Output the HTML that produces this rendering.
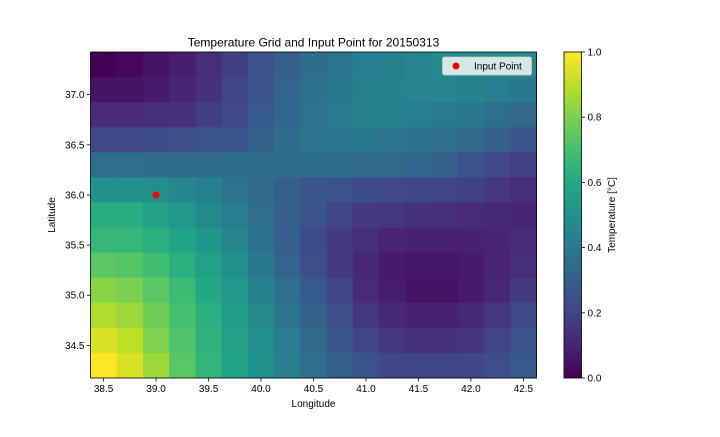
<!DOCTYPE html>
<html><head><meta charset="utf-8"><style>
body{margin:0;background:#fff;}
svg text{font-family:"Liberation Sans","DejaVu Sans",sans-serif;fill:#000;}
</style></head><body>
<svg id="c" width="720" height="432" xmlns="http://www.w3.org/2000/svg">
<defs><linearGradient id="vg" x1="0" y1="1" x2="0" y2="0"></linearGradient></defs>
</svg>
<script>
const lons = [38.5,38.75,39.0,39.25,39.5,39.75,40.0,40.25,40.5,40.75,41.0,41.25,41.5,41.75,42.0,42.25,42.5];
const lats = [37.3,37.05,36.8,36.55,36.3,36.05,35.8,35.55,35.3,35.05,34.8,34.55,34.3];
const temps = [
[0.0,0.02,0.05,0.08,0.13,0.18,0.25,0.3,0.35,0.38,0.42,0.43,0.45,0.47,0.47,0.47,0.47],
[0.05,0.05,0.07,0.1,0.14,0.2,0.26,0.32,0.37,0.4,0.43,0.44,0.45,0.45,0.44,0.42,0.4],
[0.12,0.12,0.13,0.14,0.18,0.22,0.28,0.33,0.38,0.41,0.43,0.43,0.42,0.41,0.4,0.36,0.34],
[0.22,0.22,0.23,0.24,0.25,0.27,0.31,0.35,0.38,0.39,0.4,0.39,0.37,0.36,0.34,0.3,0.27],
[0.36,0.36,0.35,0.35,0.35,0.35,0.35,0.35,0.35,0.35,0.34,0.34,0.32,0.3,0.26,0.22,0.19],
[0.5,0.5,0.49,0.46,0.43,0.38,0.34,0.3,0.27,0.25,0.23,0.22,0.21,0.2,0.19,0.16,0.13],
[0.62,0.62,0.57,0.53,0.47,0.42,0.36,0.3,0.26,0.2,0.17,0.16,0.14,0.13,0.12,0.11,0.10],
[0.66,0.66,0.63,0.58,0.52,0.45,0.37,0.3,0.23,0.17,0.13,0.1,0.09,0.09,0.09,0.1,0.12],
[0.74,0.73,0.69,0.63,0.57,0.49,0.4,0.32,0.24,0.17,0.11,0.07,0.06,0.06,0.07,0.1,0.13],
[0.82,0.8,0.74,0.68,0.6,0.53,0.44,0.36,0.28,0.2,0.12,0.08,0.05,0.05,0.07,0.11,0.17],
[0.88,0.85,0.78,0.7,0.63,0.55,0.47,0.39,0.31,0.24,0.16,0.11,0.09,0.09,0.11,0.16,0.22],
[0.94,0.9,0.81,0.72,0.64,0.57,0.49,0.42,0.34,0.27,0.21,0.16,0.14,0.14,0.15,0.2,0.25],
[1.0,0.94,0.85,0.74,0.65,0.58,0.5,0.43,0.36,0.3,0.25,0.21,0.2,0.2,0.21,0.24,0.28]
];
const inputPoint = [39.0, 36.0];
const xTicks = [38.5,39.0,39.5,40.0,40.5,41.0,41.5,42.0,42.5];
const yTicks = [34.5,35.0,35.5,36.0,36.5,37.0];
const cTicks = [0.0,0.2,0.4,0.6,0.8,1.0];

const VIR=["#440154","#482475","#414487","#355f8d","#2a788e","#21918c","#22a884","#44bf70","#7ad151","#bddf26","#fde725"];
function hex(h){return [1,3,5].map(i=>parseInt(h.substr(i,2),16));}
function vir(t){t=Math.max(0,Math.min(1,t));const p=t*10,i=Math.min(9,Math.floor(p)),f=p-i;const a=hex(VIR[i]),b=hex(VIR[i+1]);return `rgb(${a.map((v,k)=>Math.round(v+(b[k]-v)*f)).join(',')})`;}

const L=90.5,R=536.5,T=52,B=378;
const lonMin=38.375,lonMax=42.625,latMin=34.175,latMax=37.425;
const X=v=>L+(v-lonMin)/(lonMax-lonMin)*(R-L);
const Y=v=>B-(v-latMin)/(latMax-latMin)*(B-T);
const svg=document.getElementById('c');
const NS="http://www.w3.org/2000/svg";
function mk(tag,attrs,parent){const e=document.createElementNS(NS,tag);for(const k in attrs)e.setAttribute(k,attrs[k]);(parent||svg).appendChild(e);return e;}
function txt(x,y,s,attrs){const e=mk('text',Object.assign({x:x,y:y,'font-size':10},attrs||{}));e.textContent=s;return e;}

const g=mk('g',{});


const dlon=0.25,dlat=0.25;
lats.forEach((la,r)=>lons.forEach((lo,c)=>{
  const x0=X(lo-dlon/2),x1=X(lo+dlon/2),y0=Y(la+dlat/2),y1=Y(la-dlat/2);
  const e=mk('rect',{x:x0,y:y0,width:x1-x0+0.4,height:y1-y0+0.4,fill:vir(temps[r][c])},g);
  
  
}));
const fr=mk('rect',{x:L,y:T,width:R-L,height:B-T,fill:'none',stroke:'#000','stroke-width':0.8});



xTicks.forEach(v=>{const x=X(v);mk('line',{x1:x,x2:x,y1:B,y2:B+3.5,stroke:'#000','stroke-width':0.8});
  const t=txt(x,B+14,v.toFixed(1),{'text-anchor':'middle'});});
yTicks.forEach(v=>{const y=Y(v);mk('line',{x1:L-3.5,x2:L,y1:y,y2:y,stroke:'#000','stroke-width':0.8});
  const t=txt(L-6,y+3.5,v.toFixed(1),{'text-anchor':'end'});});

const pt=mk('circle',{cx:X(inputPoint[0]),cy:Y(inputPoint[1]),r:3.5,fill:'#ff0000'});



const lg=mk('g',{});


mk('rect',{x:442.5,y:57,width:89,height:18,rx:2,fill:'#d5e8e6',stroke:'#cccccc','stroke-width':0.8},lg);
mk('circle',{cx:456,cy:66,r:3.5,fill:'#ff0000'},lg);
const lt=txt(474,69.5,'Input Point',{});lg.appendChild(lt);

const tt=txt((L+R)/2,46.5,'Temperature Grid and Input Point for 20150313',{'text-anchor':'middle','font-size':12});

const xl=txt((L+R)/2,407,'Longitude',{'text-anchor':'middle'});

const yl=txt(0,0,'Latitude',{'text-anchor':'middle',transform:`translate(55,${(T+B)/2}) rotate(-90)`});


// colorbar
const grad=document.getElementById('vg');
VIR.forEach((c,i)=>mk('stop',{offset:(i*10)+'%','stop-color':c},grad));
const CL=564,CR=581.5;
const cb=mk('rect',{x:CL,y:T,width:CR-CL,height:B-T,fill:'url(#vg)',stroke:'#000','stroke-width':0.8});

cTicks.forEach(v=>{const y=B-v*(B-T);mk('line',{x1:CR,x2:CR+3.5,y1:y,y2:y,stroke:'#000','stroke-width':0.8});
  const t=txt(CR+6,y+3.5,v.toFixed(1),{});});
const cl=txt(0,0,'Temperature [°C]',{'text-anchor':'middle',transform:`translate(615,${(T+B)/2}) rotate(-90)`});

</script>
</body></html>
